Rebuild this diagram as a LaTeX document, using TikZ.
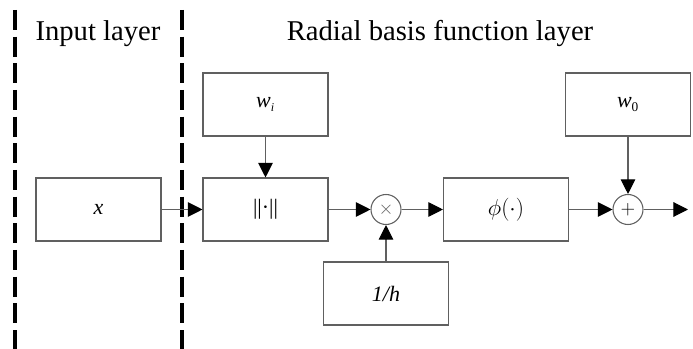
\documentclass[tikz,border=0pt]{standalone}
\usepackage{fontspec}
\setmainfont{Liberation Serif}
\usetikzlibrary{arrows.meta}
\definecolor{edge}{HTML}{606060}
\begin{document}
\begin{tikzpicture}[x=0.75pt,y=-0.75pt,
  blk/.style={draw=edge,line width=0.8pt,minimum width=93.75pt,minimum height=47.25pt,inner sep=0pt,font=\fontsize{16.5}{16.5}\selectfont},
  op/.style={circle,draw=edge,line width=0.8pt,minimum size=22.5pt,inner sep=0pt,font=\fontsize{15}{15}\selectfont},
  arr/.style={draw=edge,line width=0.8pt,-{Triangle[length=11pt,width=11pt,fill=black,color=black]}},
  sep/.style={line width=2.3pt,dash pattern=on 15pt off 5pt},
  title/.style={anchor=base,font=\fontsize{21.5}{21.5}\selectfont,inner sep=0pt}]
\useasboundingbox (0,0) rectangle (693,349);
% separators
\coordinate (s1t) at (15,10);
\coordinate (s1b) at (15,349);
\coordinate (s2t) at (182,10);
\coordinate (s2b) at (182,349);
\draw[sep] (s1t) -- (s1b);
\draw[sep] (s2t) -- (s2b);
% titles
\node[title] (t1) at (98,41) {Input layer};
\node[title] (t2) at (440,41) {Radial basis function layer};
% blocks
\node[blk] (x) at (98.5,209.5) {\textit{x}};
\node[blk] (wi) at (265.5,104.5) {\textit{w}\textsubscript{\fontsize{9}{9}\selectfont\textit{i}}};
\node[blk] (norm) at (265.5,209.5) {||·||};
\node[op,text=edge] (times) at (386,209.5) {$\times$};
\node[blk] (oneh) at (386,293.5) {\textit{1/h}};
\node[blk] (phi) at (506,209.5) {$\phi(\cdot)$};
\node[op,text=black] (plus) at (628,209.5) {$+$};
\node[blk] (w0) at (628,104.5) {\textit{w}\textsubscript{\fontsize{10}{10}\selectfont 0}};
\coordinate (out) at (688,209.5);
% connectors
\draw[arr] (x) -- (norm);
\draw[arr] (wi) -- (norm);
\draw[arr] (norm) -- (times);
\draw[arr] (oneh) -- (times);
\draw[arr] (times) -- (phi);
\draw[arr] (phi) -- (plus);
\draw[arr] (w0) -- (plus);
\draw[arr] (plus) -- (out);
\end{tikzpicture}
\end{document}
